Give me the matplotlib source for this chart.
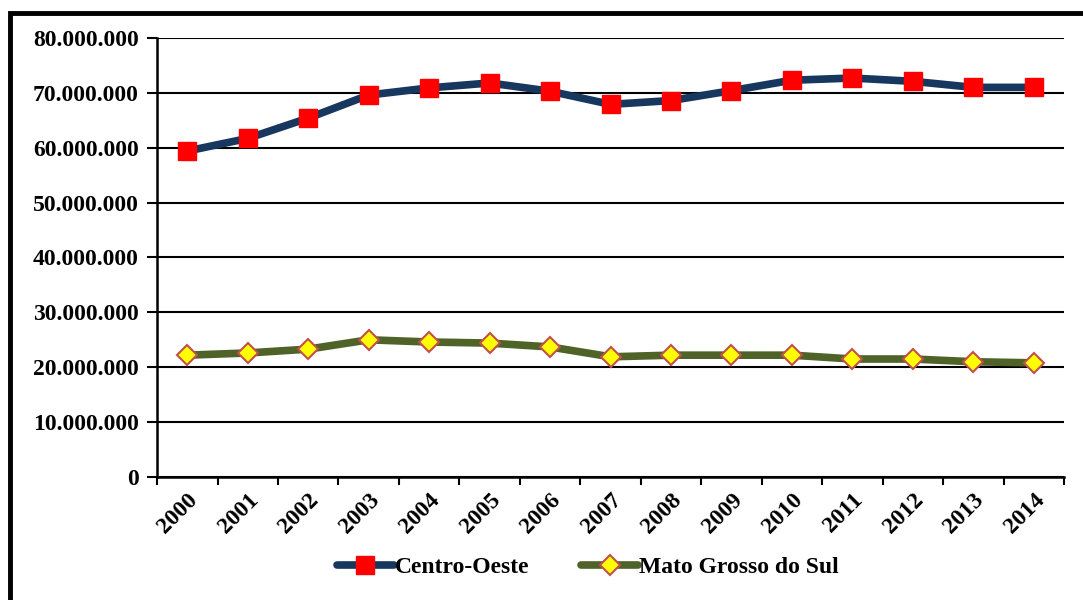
import numpy as np
import matplotlib
matplotlib.use("Agg")
from matplotlib import pyplot as plt
from matplotlib.patches import Rectangle
from matplotlib.ticker import FuncFormatter

years = [str(y) for y in range(2000, 2015)]
centro_oeste = [59.4, 61.7, 65.4, 69.6, 70.9, 71.8, 70.3, 67.9, 68.6, 70.4,
                72.3, 72.7, 72.1, 71.0, 71.0]
mato_grosso_sul = [22.2, 22.6, 23.3, 25.0, 24.6, 24.4, 23.7, 21.9, 22.2, 22.2,
                   22.2, 21.5, 21.5, 21.0, 20.8]
centro_oeste = np.array(centro_oeste) * 1e6
mato_grosso_sul = np.array(mato_grosso_sul) * 1e6

plt.rcParams['font.family'] = ['Liberation Serif', 'DejaVu Serif']
plt.rcParams['font.weight'] = 'bold'

fig = plt.figure(figsize=(10.83, 6), dpi=100)
ax = fig.add_axes([0.145, 0.205, 0.8375, 0.7317])

x = np.arange(len(years))
ax.plot(x, centro_oeste, color='#17375E', lw=5.5, marker='s', ms=13,
        mfc='#FF0000', mec='#FF0000', solid_capstyle='round', label='Centro-Oeste', zorder=3)
ax.plot(x, mato_grosso_sul, color='#4F6228', lw=5.5, marker='D', ms=10,
        mfc='#FFFF00', mec='#C0504D', mew=1.5, solid_capstyle='round',
        label='Mato Grosso do Sul', zorder=3)

ax.set_xlim(-0.5, len(years) - 0.5)
ax.set_ylim(0, 80e6)
ax.set_yticks(np.arange(0, 80e6 + 1, 10e6))
ax.yaxis.set_major_formatter(FuncFormatter(
    lambda v, p: '0' if v == 0 else f'{int(v):,}'.replace(',', '.')))
ax.set_xticks(np.arange(-0.5, len(years) + 0.5, 1))
ax.set_xticklabels([])
ax.set_xticks(x, minor=True)
ax.set_xticklabels(years, minor=True, rotation=45, ha='right', va='top',
                   rotation_mode='anchor', fontsize=17, fontweight='bold')
ax.tick_params(axis='x', which='minor', length=0, pad=9)
ax.tick_params(axis='x', which='major', length=6, width=1.5, direction='out')
ax.tick_params(axis='y', length=7, width=1.5, labelsize=17, pad=6)
for lab in ax.get_yticklabels():
    lab.set_fontweight('bold')

ax.grid(axis='y', color='black', lw=1.5)
ax.set_axisbelow(True)
for s in ['top', 'right']:
    ax.spines[s].set_visible(False)
for s in ['left', 'bottom']:
    ax.spines[s].set_linewidth(1.8)

fig.legend(loc='center', bbox_to_anchor=(0.543, 0.055), ncol=2, frameon=False,
           prop={'size': 17, 'weight': 'bold'}, handlelength=2.4, columnspacing=2.2,
           handletextpad=0.05)

fig.patches.append(Rectangle((0.009, -0.02), 1.05, 0.999, transform=fig.transFigure,
                             fill=False, ec='black', lw=3.5))

fig.savefig('out.png', dpi=100)
